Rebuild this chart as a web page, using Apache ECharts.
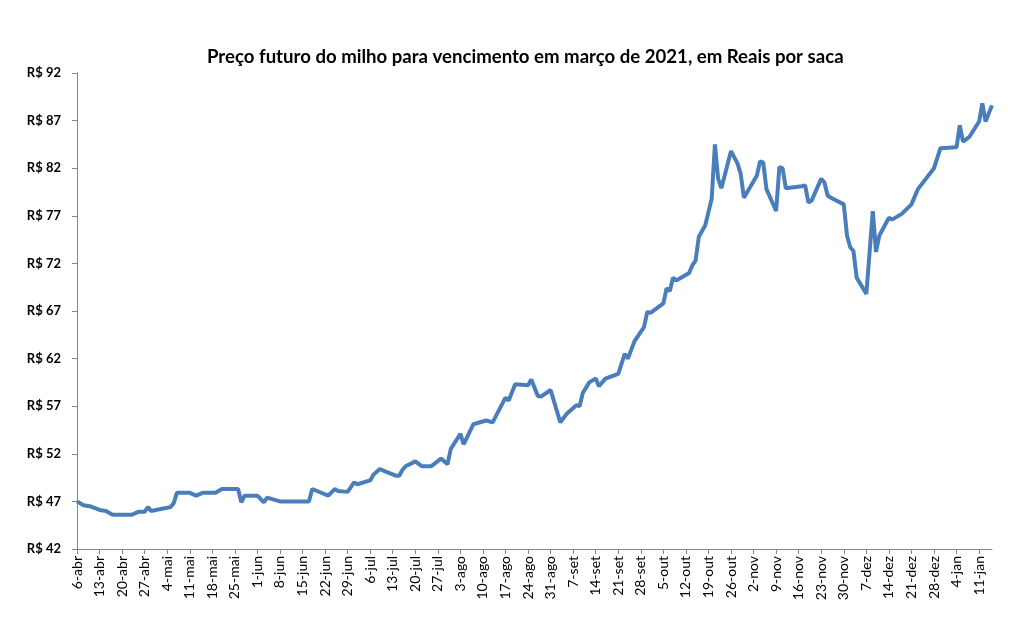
<!DOCTYPE html>
<html>
<head>
<meta charset="utf-8">
<script src="https://cdn.jsdelivr.net/npm/echarts@6/dist/echarts.min.js"></script>
<style>
html, body { margin: 0; padding: 0; background: #fff; }
#chart { width: 1012px; height: 631px; }
</style>
</head>
<body>
<div id="chart"></div>
<script>
// dias contados a partir de 6-abr-2020
const days = [0, 2, 4, 7, 9, 11, 17, 19, 21, 22, 23, 26, 29, 30, 31, 35, 37, 39, 43, 45,
  50, 51, 52, 56, 58, 59, 63, 72, 73, 78, 80, 81, 84, 86, 87, 91, 92, 94, 96, 99,
  100, 101, 102, 105, 107, 110, 113, 115, 116, 119, 120, 123, 127, 129, 133, 134, 136, 140, 141, 143,
  144, 147, 150, 152, 155, 156, 157, 159, 161, 162, 164, 168, 170, 171, 173, 176, 177, 178, 182, 183,
  184, 185, 186, 190, 191, 192, 193, 195, 196, 197, 198, 199, 200, 203, 205, 206, 207, 211, 212, 213,
  214, 217, 218, 219, 220, 225, 226, 227, 228, 231, 232, 233, 234, 238, 239, 240, 241, 242, 245, 247,
  248, 249, 252, 253, 256, 259, 261, 266, 268, 273, 274, 275, 277, 280, 281, 282, 284]
const precos = [47.0, 46.6, 46.5, 46.1, 46.0, 45.6, 45.6, 45.9, 45.9, 46.4, 46.0, 46.2, 46.4, 46.8, 47.9, 47.9, 47.6, 47.9, 47.9, 48.3,
  48.3, 46.9, 47.6, 47.6, 46.9, 47.4, 47.0, 47.0, 48.3, 47.6, 48.3, 48.1, 48.0, 49.0, 48.8, 49.2, 49.8, 50.4, 50.1, 49.7,
  49.7, 50.3, 50.7, 51.2, 50.7, 50.7, 51.5, 50.9, 52.5, 54.1, 53.0, 55.1, 55.5, 55.3, 57.9, 57.6, 59.3, 59.2, 59.8, 58.1,
  58.0, 58.7, 55.3, 56.2, 57.1, 57.0, 58.4, 59.5, 59.9, 59.1, 59.9, 60.4, 62.5, 62.0, 63.8, 65.3, 66.9, 66.8, 67.8, 69.4,
  69.1, 70.5, 70.2, 71.0, 71.8, 72.3, 74.8, 76.0, 77.4, 78.8, 84.5, 80.9, 79.9, 83.8, 82.5, 81.4, 78.9, 81.2, 82.7, 82.6,
  79.8, 77.5, 82.1, 82.0, 79.9, 80.1, 80.2, 78.4, 78.6, 80.9, 80.5, 79.1, 78.9, 78.2, 74.9, 73.7, 73.3, 70.5, 68.8, 77.5,
  73.2, 74.9, 76.8, 76.6, 77.2, 78.2, 79.8, 82.0, 84.1, 84.2, 86.5, 84.8, 85.3, 86.9, 88.8, 86.9, 88.6]
const tickLabels = ['6-abr', '13-abr', '20-abr', '27-abr', '4-mai', '11-mai', '18-mai', '25-mai', '1-jun', '8-jun',
  '15-jun', '22-jun', '29-jun', '6-jul', '13-jul', '20-jul', '27-jul', '3-ago', '10-ago', '17-ago',
  '24-ago', '31-ago', '7-set', '14-set', '21-set', '28-set', '5-out', '12-out', '19-out', '26-out',
  '2-nov', '9-nov', '16-nov', '23-nov', '30-nov', '7-dez', '14-dez', '21-dez', '28-dez', '4-jan', '11-jan']
const tickDays = tickLabels.map((_, i) => i * 7)

const myChart = echarts.init(document.getElementById('chart'))
const option = {
  animation: false,
  backgroundColor: '#fff',
  title: {
    text: 'Preço futuro do milho para vencimento em março de 2021, em Reais por saca',
    left: 202,
    top: 42,
    textStyle: { fontFamily: 'Lato', fontWeight: 'bold', fontSize: 18.6, color: '#000' }
  },
  grid: { left: 77, right: 20, top: 73, bottom: 82, containLabel: false },
  xAxis: {
    type: 'value',
    min: 0,
    max: 284,
    interval: 7,
    splitLine: { show: false },
    axisLine: { lineStyle: { color: '#868686' } },
    axisTick: { customValues: tickDays, length: 5, lineStyle: { color: '#868686' } },
    axisLabel: {
      customValues: tickDays,
      rotate: 90,
      margin: 7,
      fontFamily: 'Lato',
      fontSize: 14,
      color: '#000',
      formatter: v => tickLabels[Math.round(v / 7)]
    }
  },
  yAxis: {
    type: 'value',
    min: 42,
    max: 92,
    interval: 5,
    splitLine: { show: false },
    axisLine: { show: true, lineStyle: { color: '#868686' } },
    axisTick: { show: true, length: 5, lineStyle: { color: '#868686' } },
    axisLabel: {
      margin: 16,
      fontFamily: 'Lato',
      fontWeight: 'bold',
      fontSize: 13,
      color: '#000',
      formatter: v => 'R$ ' + v
    }
  },
  series: [{
    type: 'line',
    data: days.map((d, i) => [d, precos[i]]),
    showSymbol: false,
    lineStyle: { color: '#4a7ebb', width: 4 },
    itemStyle: { color: '#4a7ebb' }
  }]
}
myChart.setOption(option)
</script>
</body>
</html>
